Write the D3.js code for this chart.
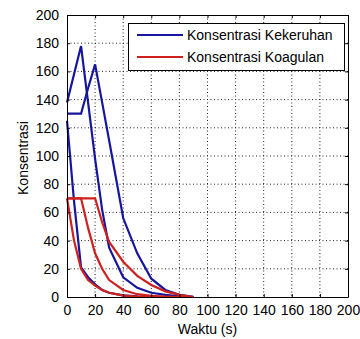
<!DOCTYPE html>
<html>
<head>
<meta charset="utf-8">
<script src="https://cdn.jsdelivr.net/npm/d3@7"></script>
<style>
	body { margin: 0; background: #fff; }
	text { font-family: 'Liberation Sans', Arial, sans-serif; }
</style>
</head>
<body>
<div id="chart"></div>
<script>
// data
var waktu = [ 0, 5, 10, 15, 20, 25, 30, 40, 50, 60, 70, 80, 90 ];

var kekeruhan1 = [ 125, 68, 21, 14, 9, 5, 3, 1.2, 0.4, 0, 0, 0, 0 ];
var kekeruhan2 = [ 138, 158, 178, 138, 98, 62, 35, 14, 6.5, 3, 1.5, 0.5, 0 ];
var kekeruhan3 = [ 130, 130, 130, 148, 165, 138, 111, 56, 31, 13, 5, 1.5, 0.2 ];

var koagulan1 = [ 70, 40, 20, 12, 8, 5, 3, 1, 0.3, 0, 0, 0, 0 ];
var koagulan2 = [ 70, 70, 70, 49, 31, 20, 12, 5, 2, 0.8, 0.3, 0, 0 ];
var koagulan3 = [ 70, 70, 70, 70, 70, 53, 39, 25, 15, 8.5, 4, 1.5, 0 ];

var xTicks = d3.range( 0, 201, 20 );
var yTicks = d3.range( 0, 201, 20 );

var legendLabels = [ 'Konsentrasi Kekeruhan', 'Konsentrasi Koagulan' ];

var blue = '#16169c';
var red = '#cf2020';

var width = 360;
var height = 339;
var plotLeft = 67, plotRight = 348, plotTop = 15, plotBottom = 297;

var svg = d3.select( '#chart' ).append( 'svg' )
	.attr( 'width', width )
	.attr( 'height', height );

var xScale = d3.scaleLinear().domain( [ 0, 200 ] ).range( [ plotLeft, plotRight ] );
var yScale = d3.scaleLinear().domain( [ 0, 200 ] ).range( [ plotBottom, plotTop ] );

// grid
svg.append( 'g' ).selectAll( 'line' )
	.data( xTicks.slice( 1, -1 ) )
	.enter().append( 'line' )
	.attr( 'x1', d => xScale( d ) ).attr( 'x2', d => xScale( d ) )
	.attr( 'y1', plotTop ).attr( 'y2', plotBottom )
	.attr( 'stroke', '#222' ).attr( 'stroke-width', 1 )
	.attr( 'stroke-dasharray', '1,2.5' );

svg.append( 'g' ).selectAll( 'line' )
	.data( yTicks.slice( 1, -1 ) )
	.enter().append( 'line' )
	.attr( 'x1', plotLeft ).attr( 'x2', plotRight )
	.attr( 'y1', d => yScale( d ) ).attr( 'y2', d => yScale( d ) )
	.attr( 'stroke', '#222' ).attr( 'stroke-width', 1 )
	.attr( 'stroke-dasharray', '1,2.5' );

// lines
var line = d3.line()
	.x( ( d, i ) => xScale( waktu[ i ] ) )
	.y( d => yScale( d ) );

var blueSeries = [ kekeruhan1, kekeruhan2, kekeruhan3 ];
var redSeries = [ koagulan1, koagulan2, koagulan3 ];

svg.append( 'g' ).selectAll( 'path' )
	.data( blueSeries )
	.enter().append( 'path' )
	.attr( 'd', line )
	.attr( 'fill', 'none' )
	.attr( 'stroke', blue )
	.attr( 'stroke-width', 2.2 );

svg.append( 'g' ).selectAll( 'path' )
	.data( redSeries )
	.enter().append( 'path' )
	.attr( 'd', line )
	.attr( 'fill', 'none' )
	.attr( 'stroke', red )
	.attr( 'stroke-width', 2.2 );

// axes
var xAxis = d3.axisBottom( xScale ).tickValues( xTicks ).tickSizeInner( -3 ).tickSizeOuter( 0 ).tickPadding( 8 );
var yAxis = d3.axisLeft( yScale ).tickValues( yTicks ).tickSizeInner( -3 ).tickSizeOuter( 0 ).tickPadding( 8 );
var xAxisTop = d3.axisTop( xScale ).tickValues( xTicks ).tickSizeInner( -3 ).tickSizeOuter( 0 ).tickFormat( '' );
var yAxisRight = d3.axisRight( yScale ).tickValues( yTicks ).tickSizeInner( -3 ).tickSizeOuter( 0 ).tickFormat( '' );

function styleAxis( g ) {
	g.select( '.domain' ).attr( 'stroke', '#000' );
	g.selectAll( '.tick line' ).attr( 'stroke', '#000' );
	g.selectAll( '.tick text' )
		.attr( 'fill', '#000' )
		.attr( 'font-size', '14px' )
		.attr( 'font-family', "'Liberation Sans', Arial, sans-serif" );
}

svg.append( 'g' ).attr( 'transform', 'translate(0,' + plotBottom + ')' ).call( xAxis ).call( styleAxis );
svg.append( 'g' ).attr( 'transform', 'translate(' + plotLeft + ',0)' ).call( yAxis ).call( styleAxis );
svg.append( 'g' ).attr( 'transform', 'translate(0,' + plotTop + ')' ).call( xAxisTop ).call( styleAxis );
svg.append( 'g' ).attr( 'transform', 'translate(' + plotRight + ',0)' ).call( yAxisRight ).call( styleAxis );

// axis labels
svg.append( 'text' )
	.attr( 'x', ( plotLeft + plotRight ) / 2 )
	.attr( 'y', 334 )
	.attr( 'text-anchor', 'middle' )
	.attr( 'font-size', '14px' )
	.text( 'Waktu (s)' );

svg.append( 'text' )
	.attr( 'transform', 'translate(28,158) rotate(-90)' )
	.attr( 'text-anchor', 'middle' )
	.attr( 'font-size', '14px' )
	.text( 'Konsentrasi' );

// legend
var legend = svg.append( 'g' );
legend.append( 'rect' )
	.attr( 'x', 128.5 ).attr( 'y', 23.5 )
	.attr( 'width', 216 ).attr( 'height', 47 )
	.attr( 'fill', '#fff' )
	.attr( 'stroke', '#000' );

var legendItems = legend.selectAll( '.item' )
	.data( legendLabels )
	.enter().append( 'g' )
	.attr( 'class', 'item' )
	.attr( 'transform', ( d, i ) => 'translate(0,' + ( 35 + i * 22 ) + ')' );

legendItems.append( 'line' )
	.attr( 'x1', 137 ).attr( 'x2', 183 )
	.attr( 'stroke', ( d, i ) => i === 0 ? blue : red )
	.attr( 'stroke-width', 2.2 );

legendItems.append( 'text' )
	.attr( 'x', 187 )
	.attr( 'y', 5 )
	.attr( 'font-size', '14px' )
	.text( d => d );
</script>
</body>
</html>
